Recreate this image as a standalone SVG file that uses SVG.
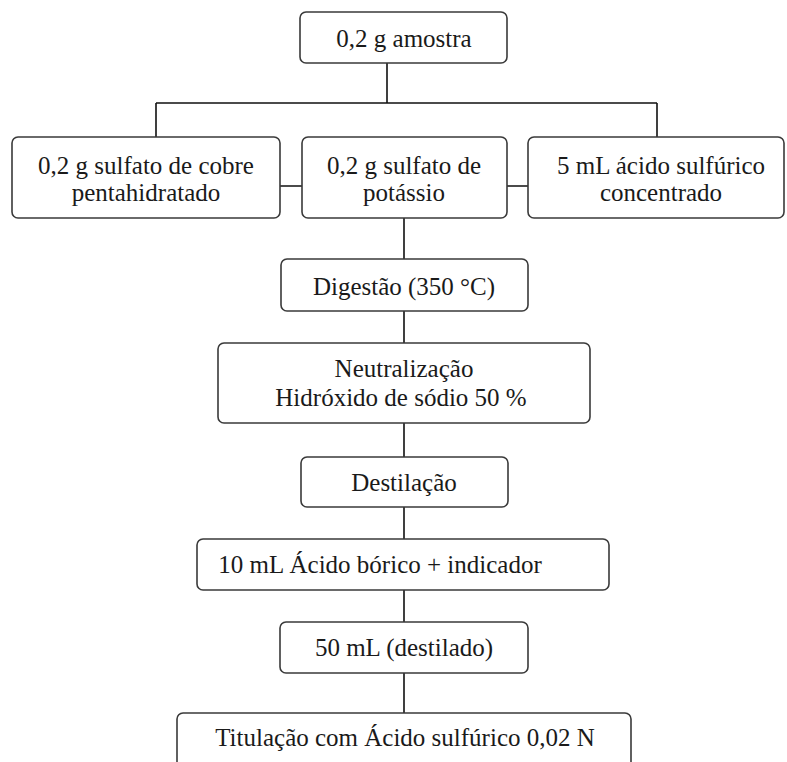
<svg xmlns="http://www.w3.org/2000/svg" width="787" height="762" viewBox="0 0 787 762">
  <style>
    .box { fill: #ffffff; stroke: #3a3a3a; stroke-width: 1.6; }
    .lbl { font-family: "Liberation Serif", "DejaVu Serif", serif; font-size: 25px; fill: #1a1a1a; text-anchor: middle; }
    .wire { stroke: #111111; stroke-width: 1.6; fill: none; }
  </style>
  <rect width="787" height="762" fill="#ffffff"/>

  <!-- connectors -->
  <g id="connectors">
    <path class="wire" d="M387,63 V103 M156,103 H657 M156,103 V137 M657,103 V137"/>
    <path class="wire" d="M280,186 H302 M507,186 H528"/>
    <path class="wire" d="M404,218 V259 M404,311 V343 M404,423 V457 M404,507 V539 M404,590 V622 M404,673 V713"/>
  </g>

  <g id="amostra">
    <rect class="box" x="300" y="12" width="207" height="51" rx="6"/>
    <text class="lbl" x="404" y="47">0,2 g amostra</text>
  </g>

  <g id="sulfato-cobre">
    <rect class="box" x="12" y="137" width="268" height="81" rx="6"/>
    <text class="lbl" x="146" y="174">0,2 g sulfato de cobre</text>
    <text class="lbl" x="146" y="201">pentahidratado</text>
  </g>

  <g id="sulfato-potassio">
    <rect class="box" x="302" y="137" width="205" height="81" rx="6"/>
    <text class="lbl" x="404" y="174">0,2 g sulfato de</text>
    <text class="lbl" x="404" y="201">potássio</text>
  </g>

  <g id="acido-sulfurico">
    <rect class="box" x="528" y="137" width="256" height="81" rx="6"/>
    <text class="lbl" x="661" y="174">5 mL ácido sulfúrico</text>
    <text class="lbl" x="661" y="201">concentrado</text>
  </g>

  <g id="digestao">
    <rect class="box" x="281" y="259" width="247" height="52" rx="6"/>
    <text class="lbl" x="404" y="295">Digestão (350 °C)</text>
  </g>

  <g id="neutralizacao">
    <rect class="box" x="218" y="343" width="372" height="80" rx="6"/>
    <text class="lbl" x="404" y="377">Neutralização</text>
    <text class="lbl" x="401" y="406">Hidróxido de sódio 50 %</text>
  </g>

  <g id="destilacao">
    <rect class="box" x="301" y="457" width="207" height="50" rx="6"/>
    <text class="lbl" x="404" y="491">Destilação</text>
  </g>

  <g id="acido-borico">
    <rect class="box" x="197" y="539" width="412" height="51" rx="6"/>
    <text class="lbl" x="380" y="573">10 mL Ácido bórico + indicador</text>
  </g>

  <g id="destilado">
    <rect class="box" x="280" y="622" width="248" height="51" rx="6"/>
    <text class="lbl" x="404" y="656">50 mL (destilado)</text>
  </g>

  <g id="titulacao">
    <rect class="box" x="177" y="713" width="454" height="60" rx="6"/>
    <text class="lbl" x="405" y="746">Titulação com Ácido sulfúrico 0,02 N</text>
  </g>
</svg>
